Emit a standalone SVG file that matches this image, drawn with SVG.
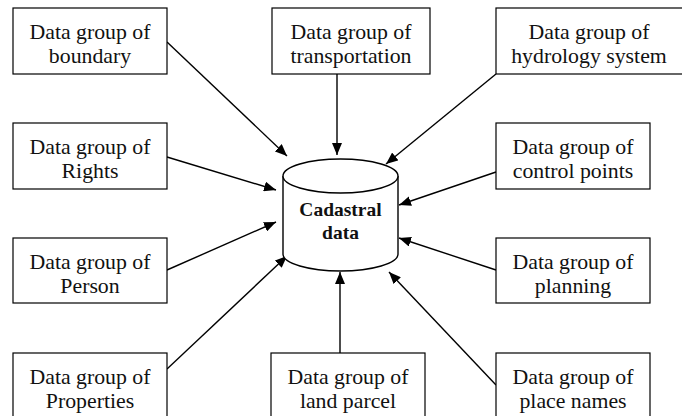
<svg xmlns="http://www.w3.org/2000/svg" width="682" height="416" viewBox="0 0 682 416">
<defs>
<style>
.box{fill:#fff;stroke:#000;stroke-width:1.2}
.t{font-family:"Liberation Serif","Times New Roman",serif;font-size:21.8px;fill:#111;text-anchor:middle}
.tb{font-family:"Liberation Serif","Times New Roman",serif;font-size:19.5px;font-weight:bold;fill:#111;text-anchor:middle}
.c{stroke:#000;stroke-width:1.4;fill:none;marker-end:url(#ah)}
</style>
<marker id="ah" viewBox="0 0 12 10" refX="12" refY="5" markerWidth="12" markerHeight="10" markerUnits="userSpaceOnUse" orient="auto">
<path d="M0,0 L12,5 L0,10 z" fill="#000"/>
</marker>
</defs>
<rect width="682" height="416" fill="#fff"/>
<g id="connectors">
<line class="c" x1="167" y1="42" x2="287" y2="156"/>
<line class="c" x1="337" y1="74" x2="337" y2="155"/>
<line class="c" x1="496" y1="74" x2="386" y2="164"/>
<line class="c" x1="167" y1="157" x2="276" y2="190"/>
<line class="c" x1="167" y1="270" x2="276" y2="222"/>
<line class="c" x1="167" y1="369" x2="287" y2="256"/>
<line class="c" x1="340" y1="353" x2="340" y2="272"/>
<line class="c" x1="496" y1="385" x2="389" y2="272"/>
<line class="c" x1="496" y1="270" x2="399" y2="238"/>
<line class="c" x1="496" y1="172" x2="399" y2="205"/>
</g>
<g id="cadastral">
<path d="M283,176 L283,254 A57.5,17 0 0 0 398,254 L398,176" fill="#fff" stroke="#000" stroke-width="1.4"/>
<ellipse cx="340.5" cy="176" rx="57.5" ry="17" fill="#fff" stroke="#000" stroke-width="1.4"/>
<text class="tb" x="340.5" y="216">Cadastral</text>
<text class="tb" x="340.5" y="239">data</text>
</g>
<g id="boundary">
<rect class="box" x="13" y="8" width="154" height="66"/>
<text class="t" x="90" y="39">Data group of</text>
<text class="t" x="90" y="63">boundary</text>
</g>
<g id="transportation">
<rect class="box" x="272" y="8" width="158" height="66"/>
<text class="t" x="351" y="39">Data group of</text>
<text class="t" x="351" y="63">transportation</text>
</g>
<g id="hydrology">
<rect class="box" x="496" y="8" width="190" height="66"/>
<text class="t" x="589" y="39">Data group of</text>
<text class="t" x="589" y="63">hydrology system</text>
</g>
<g id="rights">
<rect class="box" x="13" y="123" width="154" height="66"/>
<text class="t" x="90" y="154">Data group of</text>
<text class="t" x="90" y="178">Rights</text>
</g>
<g id="control">
<rect class="box" x="496" y="123" width="154" height="66"/>
<text class="t" x="573" y="154">Data group of</text>
<text class="t" x="573" y="178">control points</text>
</g>
<g id="person">
<rect class="box" x="13" y="238" width="154" height="65"/>
<text class="t" x="90" y="269">Data group of</text>
<text class="t" x="90" y="293">Person</text>
</g>
<g id="planning">
<rect class="box" x="496" y="238" width="154" height="65"/>
<text class="t" x="573" y="269">Data group of</text>
<text class="t" x="573" y="293">planning</text>
</g>
<g id="properties">
<rect class="box" x="13" y="353" width="154" height="70"/>
<text class="t" x="90" y="384">Data group of</text>
<text class="t" x="90" y="408">Properties</text>
</g>
<g id="landparcel">
<rect class="box" x="271" y="353" width="154" height="70"/>
<text class="t" x="348" y="384">Data group of</text>
<text class="t" x="348" y="408">land parcel</text>
</g>
<g id="placenames">
<rect class="box" x="496" y="353" width="154" height="70"/>
<text class="t" x="573" y="384">Data group of</text>
<text class="t" x="573" y="408">place names</text>
</g>
</svg>
